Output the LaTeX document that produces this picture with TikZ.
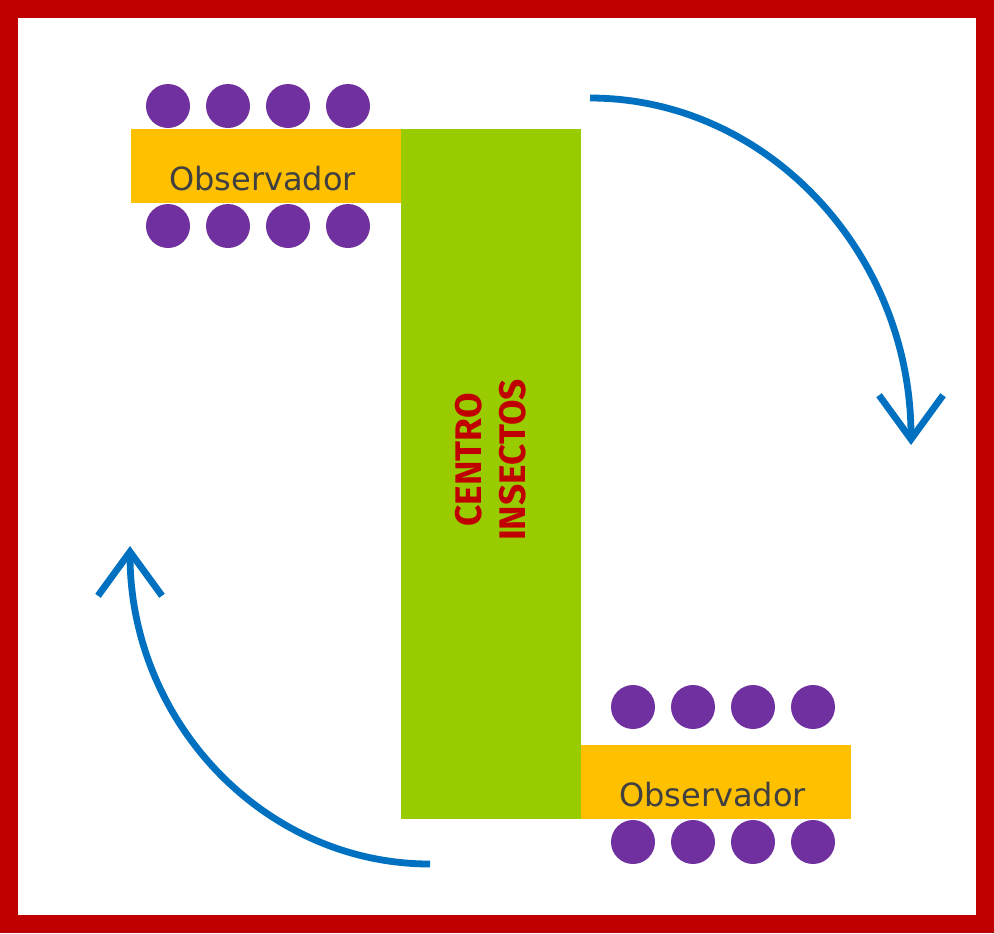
\documentclass[tikz,border=0pt]{standalone}
\usepackage{fontspec}
\setmainfont{DejaVu Sans}
\newfontfamily\centrofont{Fira Sans}
\usetikzlibrary{positioning,arrows.meta}
\definecolor{framered}{HTML}{C00000}
\definecolor{obsorange}{HTML}{FFC000}
\definecolor{centrogreen}{HTML}{99CC00}
\definecolor{seatpurple}{HTML}{7030A0}
\definecolor{turnblue}{HTML}{0070C0}
\definecolor{textgray}{HTML}{404040}

\begin{document}
\begin{tikzpicture}[x=0.5pt, y=-0.5pt,
    obsbox/.style={fill=obsorange, inner sep=0pt, minimum width=135pt, minimum height=37pt,
      text=textgray, text height=24.7pt, text depth=0pt, font=\fontsize{16}{19}\selectfont},
    seat/.style={circle, fill=seatpurple, inner sep=0pt, minimum size=22pt},
    turn/.style={draw=turnblue, line width=3.4pt, -{Straight Barb[length=22pt,width=32pt]}}]
    \useasboundingbox (0,0) rectangle (994,933);
    \draw[framered, line width=9pt] (9,9) rectangle (985,924);

    % centre strip and the two observers
    \node[fill=centrogreen, inner sep=0pt, minimum width=90pt, minimum height=345pt] (centro) at (491,474) {};
    \node[rotate=90, align=center, text=framered, font=\centrofont\bfseries\fontsize{18.5}{22}\selectfont] (centrolbl) at (491,460) {CENTRO\\INSECTOS};
    \node[obsbox] (obs1) at (266,166) {Observador\hspace*{3.5pt}};
    \node[obsbox] (obs2) at (716,782) {Observador\hspace*{3.5pt}};

    \foreach \i/\x in {1/168,2/228,3/288,4/348} {
      \node[seat] (s1a\i) at (\x,106) {};
      \node[seat] (s1b\i) at (\x,226) {};
    }
    \foreach \i/\x in {1/633,2/693,3/753,4/813} {
      \node[seat] (s2a\i) at (\x,707) {};
      \node[seat] (s2b\i) at (\x,842) {};
    }

    % turning arrows
    \coordinate (turn1) at (590,98);
    \coordinate (turn2) at (430,864);
    \draw[turn] (turn1) arc[start angle=90, end angle=0, x radius=160.5pt, y radius=173.5pt];
    \draw[turn] (turn2) arc[start angle=270, end angle=180, x radius=150pt, y radius=159pt];
\end{tikzpicture}
\end{document}
